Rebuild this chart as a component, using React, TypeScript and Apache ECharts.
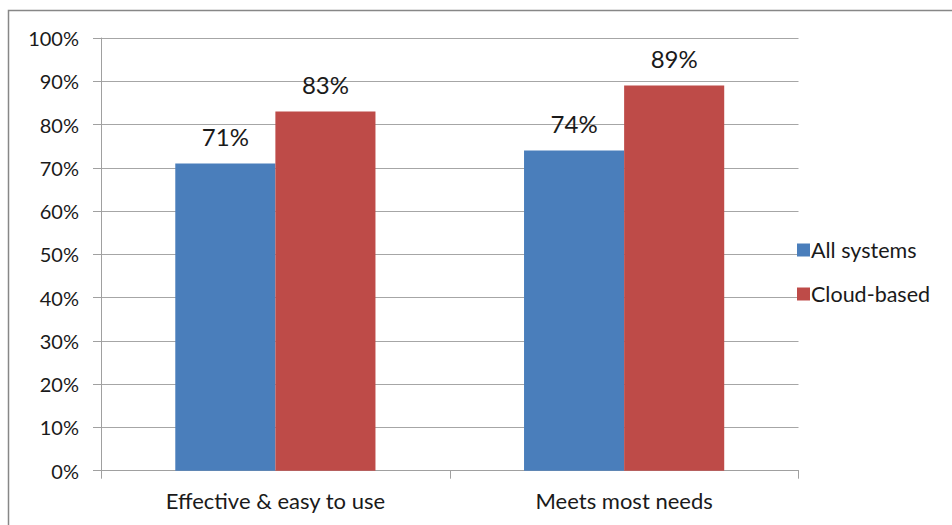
import React, { useEffect, useRef } from "react";
import * as echarts from "echarts";

const categories = ["Effective & easy to use", "Meets most needs"];
const allSystems = [71, 74];
const cloudBased = [83, 89];
const seriesNames = ["All systems", "Cloud-based"];

const FONT = "Lato, 'Noto Sans', sans-serif";

export default function App() {
  const ref = useRef<HTMLDivElement>(null);
  useEffect(() => {
    if (!ref.current) return;
    const chart = echarts.init(ref.current, null, { renderer: "svg" });
    const label = {
      show: true,
      position: "top" as const,
      distance: 15,
      formatter: "{c}%",
      color: "#1a1a1a",
      fontSize: 24,
      fontFamily: FONT,
    };
    chart.setOption({
      animation: false,
      backgroundColor: "#ffffff",
      textStyle: { fontFamily: FONT },
      graphic: [
        {
          type: "rect",
          shape: { x: 8.5, y: 10.5, width: 1000, height: 600 },
          style: { fill: "none", stroke: "#878787", lineWidth: 1.5 },
          silent: true,
        },
      ],
      grid: { left: 101, top: 38, width: 697.5, height: 432.7, containLabel: false },
      legend: {
        orient: "vertical",
        left: 792,
        top: 234,
        itemWidth: 13,
        itemHeight: 13,
        itemGap: 22,
        icon: "rect",
        textStyle: { fontSize: 21.5, color: "#1a1a1a", fontFamily: FONT, padding: [0, 0, 0, -4] },
        data: seriesNames,
      },
      xAxis: {
        type: "category",
        data: categories,
        axisLine: { show: true, lineStyle: { color: "#a0a0a0", width: 1 } },
        axisTick: { show: true, length: 8, interval: 0, alignWithLabel: false, lineStyle: { color: "#a0a0a0" } },
        axisLabel: { margin: 19, fontSize: 22, color: "#1a1a1a", fontFamily: FONT, interval: 0 },
      },
      yAxis: {
        type: "value",
        min: 0,
        max: 100,
        interval: 10,
        axisLine: { show: true, lineStyle: { color: "#a0a0a0", width: 1 } },
        axisTick: { show: true, length: 8, lineStyle: { color: "#a0a0a0" } },
        axisLabel: { formatter: "{value}%", margin: 22, fontSize: 20, color: "#1a1a1a", fontFamily: FONT },
        splitLine: { show: true, lineStyle: { color: "#a6a6a6", width: 1 } },
      },
      series: [
        {
          name: seriesNames[0],
          type: "bar",
          data: allSystems,
          barGap: "0%",
          barCategoryGap: "42.6%",
          itemStyle: { color: "#4A7EBB" },
          label,
        },
        {
          name: seriesNames[1],
          type: "bar",
          data: cloudBased,
          itemStyle: { color: "#BE4B48" },
          label,
        },
      ],
    });
    return () => chart.dispose();
  }, []);
  return <div ref={ref} style={{ position: "fixed", left: 0, top: 0, width: 952, height: 525 }} />;
}
